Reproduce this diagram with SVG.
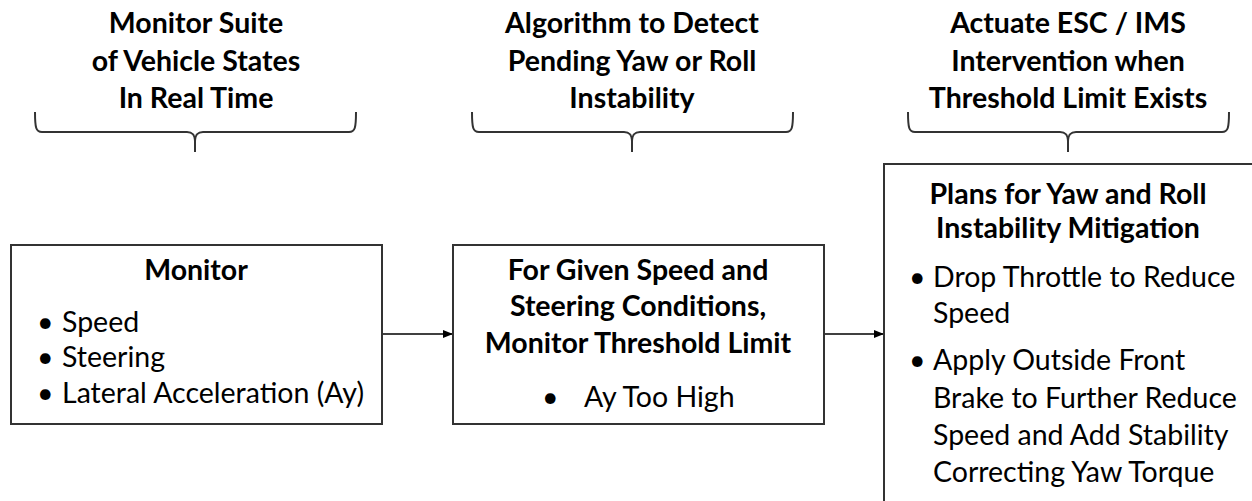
<svg xmlns="http://www.w3.org/2000/svg" width="1252" height="501" viewBox="0 0 1252 501">
<defs>
<style>
text{font-family:Lato,"Open Sans","Liberation Sans",sans-serif;fill:#000;font-size:28.5px}
.b{font-weight:bold}
.c{text-anchor:middle}
.box{fill:#fff;stroke:#333;stroke-width:2}
.brace{fill:none;stroke:#333;stroke-width:2}
.arr{fill:none;stroke:#000;stroke-width:1.5}
</style>
<marker id="ah" markerWidth="10" markerHeight="8" refX="10" refY="4" orient="auto" markerUnits="userSpaceOnUse">
<path d="M0,0 L10,4 L0,8 Z" fill="#000"/>
</marker>
</defs>
<rect width="1252" height="501" fill="#fff"/>
<g id="header1">
<text class="b c" x="196" y="33">Monitor Suite</text>
<text class="b c" x="196" y="71">of Vehicle States</text>
<text class="b c" x="196" y="108">In Real Time</text>
<path class="brace" d="M35,112 C35,128 36,132 42,132 L187,132 C192,132 195,134 195,142 L195,152 M356,112 C356,128 355,132 349,132 L203,132 C198,132 195,134 195,142"/>
</g>
<g id="header2">
<text class="b c" x="632" y="33">Algorithm to Detect</text>
<text class="b c" x="632" y="71">Pending Yaw or Roll</text>
<text class="b c" x="632" y="108">Instability</text>
<path class="brace" d="M472,112 C472,128 473,132 479,132 L624,132 C629,132 632,134 632,142 L632,152 M793,112 C793,128 792,132 786,132 L640,132 C635,132 632,134 632,142"/>
</g>
<g id="header3">
<text class="b c" x="1068" y="33">Actuate ESC / IMS</text>
<text class="b c" x="1068" y="71">Intervention when</text>
<text class="b c" x="1068" y="108">Threshold Limit Exists</text>
<path class="brace" d="M908,112 C908,128 909,132 915,132 L1060,132 C1065,132 1068,134 1068,142 L1068,152 M1229,112 C1229,128 1228,132 1222,132 L1076,132 C1071,132 1068,134 1068,142"/>
</g>
<g id="connectors">
<line class="arr" x1="382" y1="334" x2="453" y2="334" marker-end="url(#ah)"/>
<line class="arr" x1="824" y1="334" x2="884" y2="334" marker-end="url(#ah)"/>
</g>
<g id="node-monitor">
<rect class="box" x="11" y="245" width="371" height="179"/>
<text class="b c" x="196" y="280">Monitor</text>
<text x="37" y="332">•</text><text x="62" y="332">Speed</text>
<text x="37" y="367">•</text><text x="62" y="367">Steering</text>
<text x="37" y="403">•</text><text x="62" y="403">Lateral Acceleration (Ay)</text>
</g>
<g id="node-threshold">
<rect class="box" x="453" y="245" width="371" height="179"/>
<text class="b c" x="638" y="280">For Given Speed and</text>
<text class="b c" x="638" y="316">Steering Conditions,</text>
<text class="b c" x="638" y="353">Monitor Threshold Limit</text>
<text x="542" y="407">•</text><text x="584" y="407">Ay Too High</text>
</g>
<g id="node-plans">
<rect class="box" x="884" y="164" width="380" height="350"/>
<text class="b c" x="1068" y="204">Plans for Yaw and Roll</text>
<text class="b c" x="1068" y="238">Instability Mitigation</text>
<text x="909" y="287">•</text><text x="933" y="287">Drop Throttle to Reduce</text>
<text x="933" y="323">Speed</text>
<text x="909" y="370">•</text><text x="933" y="370">Apply Outside Front</text>
<text x="933" y="408">Brake to Further Reduce</text>
<text x="933" y="445">Speed and Add Stability</text>
<text x="933" y="482">Correcting Yaw Torque</text>
</g>
</svg>
